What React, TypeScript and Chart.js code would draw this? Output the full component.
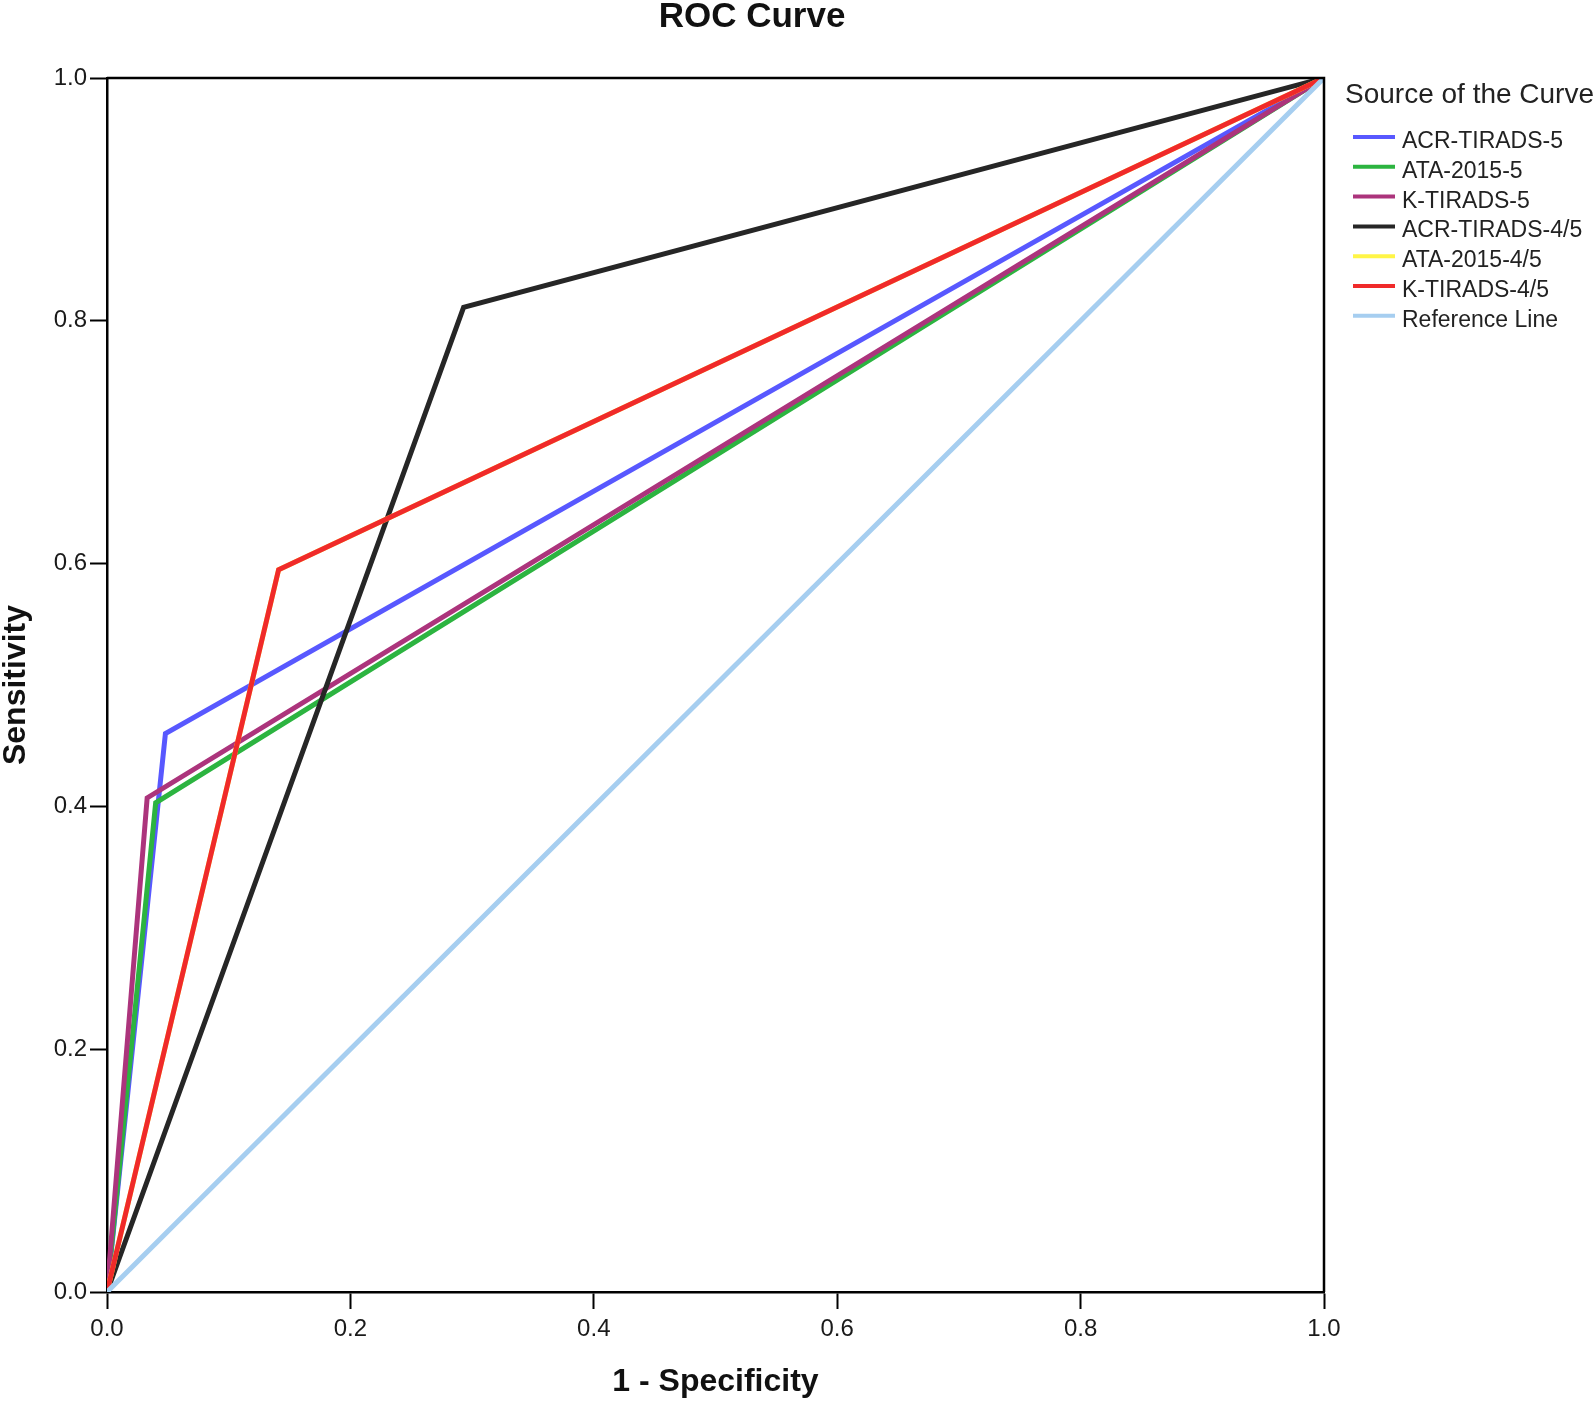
import React, { useEffect, useRef } from "react";
import { Chart, registerables } from "chart.js";

Chart.register(...registerables);

const chartTitle = "ROC Curve";
const xAxisTitle = "1 - Specificity";
const yAxisTitle = "Sensitivity";
const legendTitle = "Source of the Curve";

const seriesLabels = [
  "ACR-TIRADS-5",
  "ATA-2015-5",
  "K-TIRADS-5",
  "ACR-TIRADS-4/5",
  "ATA-2015-4/5",
  "K-TIRADS-4/5",
  "Reference Line",
];

const seriesColors = [
  "rgb(88, 88, 255)",
  "rgb(44, 180, 64)",
  "rgb(172, 52, 124)",
  "rgb(38, 38, 38)",
  "rgb(255, 245, 70)",
  "rgb(240, 42, 42)",
  "rgb(166, 206, 240)",
];

const acr5X = [0, 0.048, 1];
const acr5Y = [0, 0.46, 1];
const ata5X = [0, 0.04, 1];
const ata5Y = [0, 0.403, 1];
const k5X = [0, 0.033, 1];
const k5Y = [0, 0.407, 1];
const acr45X = [0, 0.293, 1];
const acr45Y = [0, 0.811, 1];
const ata45X = [0, 0.141, 1];
const ata45Y = [0, 0.595, 1];
const k45X = [0, 0.141, 1];
const k45Y = [0, 0.595, 1];
const refX = [0, 1];
const refY = [0, 1];

const seriesX = [acr5X, ata5X, k5X, acr45X, ata45X, k45X, refX];
const seriesY = [acr5Y, ata5Y, k5Y, acr45Y, ata45Y, k45Y, refY];

const FONT = '"Liberation Sans", Arial, sans-serif';

const decorPlugin = {
  id: "decor",
  afterDraw(chart: any) {
    const ctx = chart.ctx as CanvasRenderingContext2D;
    const a = chart.chartArea;
    ctx.save();
    // box top and right
    ctx.strokeStyle = "#000";
    ctx.lineWidth = 2.5;
    ctx.beginPath();
    ctx.moveTo(a.left, a.top);
    ctx.lineTo(a.right, a.top);
    ctx.lineTo(a.right, a.bottom);
    ctx.stroke();

    // title
    ctx.fillStyle = "#111";
    ctx.font = `bold 35px ${FONT}`;
    ctx.textAlign = "center";
    ctx.textBaseline = "alphabetic";
    ctx.fillText(chartTitle, 752, 27);

    // legend
    ctx.textAlign = "left";
    ctx.font = `28px ${FONT}`;
    ctx.fillStyle = "#222";
    ctx.fillText(legendTitle, 1345, 103);
    ctx.font = `23px ${FONT}`;
    const ds = chart.data.datasets;
    for (let i = 0; i < ds.length; i++) {
      const base = 148 + i * 29.8;
      ctx.strokeStyle = ds[i].borderColor;
      ctx.lineWidth = 4;
      ctx.beginPath();
      ctx.moveTo(1353, base - 11);
      ctx.lineTo(1395, base - 11);
      ctx.stroke();
      ctx.fillStyle = "#222";
      ctx.fillText(ds[i].label, 1402, base);
    }
    ctx.restore();
  },
};

export default function App() {
  const ref = useRef<HTMLCanvasElement | null>(null);

  useEffect(() => {
    if (!ref.current) return;
    const n = seriesLabels.length;
    const datasets = seriesLabels.map((label, i) => ({
      label,
      data: seriesX[i].map((x, j) => ({ x, y: seriesY[i][j] })),
      borderColor: seriesColors[i],
      backgroundColor: seriesColors[i],
      borderWidth: 5,
      pointRadius: 0,
      showLine: true,
      fill: false,
      order: n - i,
    }));

    const tickFont = { family: FONT, size: 24 };
    const chart = new Chart(ref.current, {
      type: "scatter",
      data: { datasets },
      plugins: [decorPlugin],
      options: {
        animation: false,
        responsive: false,
        maintainAspectRatio: false,
        devicePixelRatio: 1,
        layout: { padding: { left: 0, right: 270, top: 78, bottom: 0 } },
        plugins: {
          legend: { display: false },
          title: { display: false },
          tooltip: { enabled: false },
        },
        scales: {
          x: {
            type: "linear",
            min: 0,
            max: 1,
            afterFit: (s: any) => {
              s.height = 109;
            },
            ticks: {
              stepSize: 0.2,
              autoSkip: false,
              maxRotation: 0,
              padding: 6,
              color: "#1a1a1a",
              font: tickFont,
              callback: (v: any) => Number(v).toFixed(1),
            },
            grid: {
              display: true,
              drawOnChartArea: false,
              drawTicks: true,
              tickLength: 17,
              tickWidth: 2,
              tickColor: "#000",
            },
            border: { display: true, color: "#000", width: 2.5 },
            title: {
              display: true,
              text: xAxisTitle,
              color: "#111",
              font: { family: FONT, size: 32, weight: "bold", lineHeight: 1 },
              padding: { top: 0, bottom: 3 },
            },
          },
          y: {
            type: "linear",
            min: 0,
            max: 1,
            afterFit: (s: any) => {
              s.width = 107;
            },
            ticks: {
              stepSize: 0.2,
              autoSkip: false,
              padding: 3,
              color: "#1a1a1a",
              font: tickFont,
              callback: (v: any) => Number(v).toFixed(1),
            },
            grid: {
              display: true,
              drawOnChartArea: false,
              drawTicks: true,
              tickLength: 17,
              tickWidth: 2,
              tickColor: "#000",
            },
            border: { display: true, color: "#000", width: 2.5 },
            title: {
              display: true,
              text: yAxisTitle,
              color: "#111",
              font: { family: FONT, size: 32, weight: "bold", lineHeight: 1 },
              padding: { top: 0, bottom: 0 },
            },
          },
        },
      } as any,
    });
    return () => chart.destroy();
  }, []);

  return (
    <div style={{ position: "fixed", left: 0, top: 0, width: 1594, height: 1401, background: "#fff" }}>
      <canvas ref={ref} width={1594} height={1401} style={{ width: 1594, height: 1401, display: "block" }} />
    </div>
  );
}
